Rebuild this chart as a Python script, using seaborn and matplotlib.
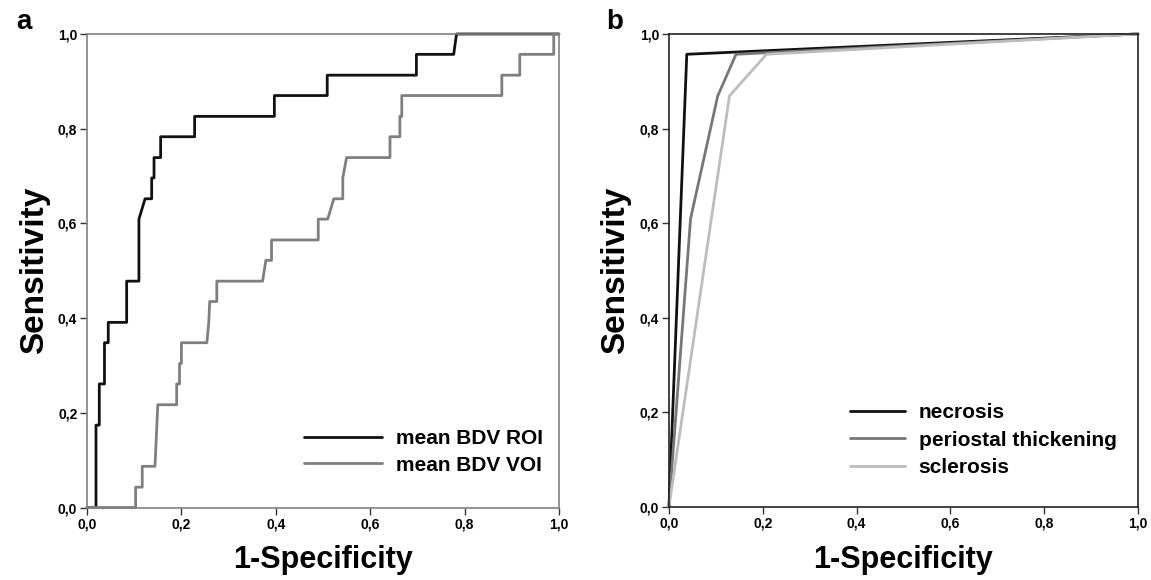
import matplotlib
matplotlib.use("Agg")
import matplotlib.pyplot as plt
import numpy as np
import pandas as pd
import seaborn as sns
from matplotlib.ticker import FuncFormatter

# panel a: ROC vertices (1-specificity, sensitivity)
roi_fpr = [0, 0.019, 0.019, 0.026, 0.026, 0.037, 0.037, 0.045, 0.045, 0.084, 0.084, 0.11, 0.11, 0.123,
           0.137, 0.137, 0.142, 0.142, 0.156, 0.156, 0.228, 0.228, 0.397, 0.397, 0.509, 0.509, 0.698,
           0.698, 0.777, 0.783, 1.0]
roi_tpr = [0, 0, 0.174, 0.174, 0.261, 0.261, 0.348, 0.348, 0.391, 0.391, 0.478, 0.478, 0.609, 0.652,
           0.652, 0.696, 0.696, 0.739, 0.739, 0.783, 0.783, 0.826, 0.826, 0.870, 0.870, 0.913, 0.913,
           0.957, 0.957, 1.0, 1.0]
voi_fpr = [0, 0.103, 0.103, 0.117, 0.117, 0.144, 0.15, 0.19, 0.19, 0.196, 0.196, 0.2, 0.2, 0.254,
           0.258, 0.26, 0.275, 0.275, 0.372, 0.379, 0.391, 0.391, 0.49, 0.49, 0.51, 0.523, 0.542,
           0.542, 0.55, 0.642, 0.642, 0.663, 0.663, 0.667, 0.667, 0.879, 0.879, 0.917, 0.917, 0.989,
           0.989, 1.0]
voi_tpr = [0, 0, 0.043, 0.043, 0.087, 0.087, 0.217, 0.217, 0.261, 0.261, 0.304, 0.304, 0.348, 0.348,
           0.391, 0.435, 0.435, 0.478, 0.478, 0.522, 0.522, 0.565, 0.565, 0.609, 0.609, 0.652, 0.652,
           0.696, 0.739, 0.739, 0.783, 0.783, 0.826, 0.826, 0.870, 0.870, 0.913, 0.913, 0.957, 0.957,
           1.0, 1.0]

# panel b
necrosis_fpr = [0, 0.038, 1.0]
necrosis_tpr = [0, 0.957, 1.0]
periost_fpr = [0, 0.046, 0.104, 0.143, 1.0]
periost_tpr = [0, 0.609, 0.869, 0.957, 1.0]
sclerosis_fpr = [0, 0.129, 0.208, 1.0]
sclerosis_tpr = [0, 0.869, 0.957, 1.0]

ticks = [0.0, 0.2, 0.4, 0.6, 0.8, 1.0]

sns.set_theme(style="ticks")
plt.rcParams["font.family"] = ["Liberation Sans", "DejaVu Sans"]
plt.rcParams["font.weight"] = "bold"
plt.rcParams["text.color"] = "black"
plt.rcParams["axes.labelcolor"] = "black"

comma = FuncFormatter(lambda v, _: f"{v:.1f}".replace(".", ","))


def style_axes(ax, spine_color):
    ax.set_xlim(0, 1)
    ax.set_ylim(0, 1)
    ax.set_xticks(ticks)
    ax.set_yticks(ticks)
    ax.xaxis.set_major_formatter(comma)
    ax.yaxis.set_major_formatter(comma)
    ax.tick_params(direction="out", length=5, width=1, labelsize=10, colors="#333333",
                   labelcolor="black", pad=2)
    for lab in ax.get_xticklabels() + ax.get_yticklabels():
        lab.set_fontweight("bold")
    for sp in ax.spines.values():
        sp.set_visible(True)
        sp.set_color(spine_color)
        sp.set_linewidth(1.2)
    ax.set_xlabel("1-Specificity", fontsize=22, fontweight="bold", labelpad=10)
    ax.set_ylabel("Sensitivity", fontsize=24, fontweight="bold", labelpad=6)


def draw(ax, fpr, tpr, label, color):
    df = pd.DataFrame({"fpr": fpr, "tpr": tpr})
    sns.lineplot(data=df, x="fpr", y="tpr", sort=False, estimator=None, color=color,
                 linewidth=2.0, label=label, ax=ax, clip_on=False)


fig = plt.figure(figsize=(11.51, 5.80), dpi=100)
ax_a = fig.add_axes([0.0756, 0.125, 0.410, 0.8164])
ax_b = fig.add_axes([0.5812, 0.126, 0.4075, 0.8155])

draw(ax_a, roi_fpr, roi_tpr, "mean BDV ROI", "#111111")
draw(ax_a, voi_fpr, voi_tpr, "mean BDV VOI", "#7f7f7f")
style_axes(ax_a, "#808080")
ax_a.legend(loc="lower right", bbox_to_anchor=(0.983, 0.052), borderaxespad=0, frameon=False,
            handlelength=3.75, handletextpad=0.65, prop={"size": 15, "weight": "bold"},
            labelspacing=0.35)

draw(ax_b, necrosis_fpr, necrosis_tpr, "necrosis", "#111111")
draw(ax_b, periost_fpr, periost_tpr, "periostal thickening", "#777777")
draw(ax_b, sclerosis_fpr, sclerosis_tpr, "sclerosis", "#bdbdbd")
style_axes(ax_b, "#222222")
ax_b.legend(loc="lower right", bbox_to_anchor=(0.972, 0.045), borderaxespad=0, frameon=False,
            handlelength=2.65, handletextpad=0.65, prop={"size": 15, "weight": "bold"},
            labelspacing=0.42)

fig.text(0.014, 0.985, "a", fontsize=20, fontweight="bold", va="top")
fig.text(0.527, 0.985, "b", fontsize=20, fontweight="bold", va="top")

fig.savefig("out.png", dpi=100)
plt.close(fig)
